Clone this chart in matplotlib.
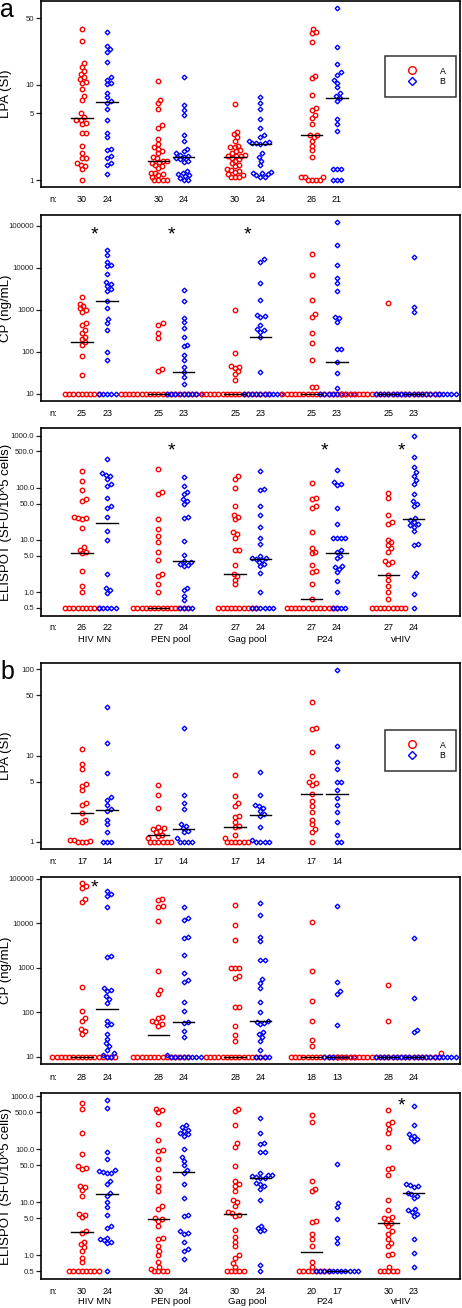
import numpy as np
import matplotlib
matplotlib.use("Agg")
import matplotlib.pyplot as plt
from matplotlib.lines import Line2D
from matplotlib.transforms import blended_transform_factory

plt.rcParams['font.family'] = ['Liberation Sans', 'DejaVu Sans']

# -------------------- data --------------------
groups = ["HIV MN", "PEN pool", "Gag pool", "P24", "vHIV"]

# panel a, LPA (SI)
a_lpa_A = [
    [39, 29, 17, 15.5, 14, 13, 12, 11.5, 10.8, 10.5, 9, 7.6, 7, 5, 4.6, 4.3, 4.3, 4, 3.9, 3.1,
     3.1, 2.3, 1.9, 1.7, 1.7, 1.5, 1.45, 1.4, 1.3, 1.0],
    [11, 7, 6.4, 5.6, 3.8, 3.55, 2.7, 2.4, 2.2, 2.1, 2.0, 1.9, 1.75, 1.7, 1.6, 1.6, 1.55, 1.5,
     1.45, 1.4, 1.35, 1.2, 1.18, 1.15, 1.12, 1.08, 1.0, 1.0, 1.0, 1.0],
    [6.3, 3.2, 3.05, 2.85, 2.6, 2.3, 2.25, 2.2, 2.05, 2.0, 1.9, 1.85, 1.8, 1.8, 1.78, 1.7, 1.65,
     1.6, 1.5, 1.45, 1.4, 1.3, 1.28, 1.25, 1.22, 1.17, 1.12, 1.08, 1.08, 1.08],
    [38.5, 35.5, 35, 28, 12.5, 11.8, 7.9, 5.75, 5.5, 4.8, 4.5, 3.9, 2.95, 2.95, 2.85, 2.6, 2.3,
     2.05, 1.75, 1.08, 1.08, 1.08, 1.0, 1.0, 1.0, 1.0],
    [],
]
a_lpa_B = [
    [35.5, 25.8, 23.8, 22, 17.5, 12, 11.3, 10.4, 10.2, 8.2, 7.4, 6.7, 6.5, 5.6, 4.3, 3.1, 2.8,
     2.1, 2.05, 1.8, 1.7, 1.5, 1.45, 1.17],
    [12, 6.2, 5.5, 4.8, 2.95, 2.6, 2.1, 2.0, 1.9, 1.85, 1.8, 1.75, 1.7, 1.65, 1.6, 1.55, 1.25,
     1.2, 1.15, 1.12, 1.1, 1.05, 1.0, 1.0],
    [7.4, 6.4, 5.6, 4.4, 3.5, 2.95, 2.8, 2.6, 2.5, 2.45, 2.43, 2.42, 2.4, 1.9, 1.75, 1.6, 1.45,
     1.22, 1.2, 1.18, 1.15, 1.12, 1.08, 1.08],
    [64, 25, 16.6, 13.5, 12.8, 11.1, 10.4, 9.4, 8.2, 7.7, 7.3, 6.8, 4.4, 3.9, 3.3, 1.32, 1.32,
     1.32, 1.0, 1.0, 1.0],
    [],
]

# panel a, CP (ng/mL)
a_cp_A = [
    [10] * 9 + [2000, 1400, 1250, 1100, 1000, 900, 500, 450, 330, 280, 230, 200, 174, 150, 80, 28],
    [10] * 19 + [480, 450, 290, 220, 40, 36],
    [10] * 17 + [1000, 92, 47, 44, 42, 35, 30, 22],
    [10] * 15 + [22000, 6800, 1700, 800, 680, 280, 165, 65, 15, 15],
    [10] * 24 + [1500],
]
a_cp_B = [
    [10] * 5 + [27000, 20000, 14000, 12000, 11000, 7300, 4700, 4200, 3800, 3200, 2800, 1650,
                1100, 600, 480, 330, 100, 65],
    [10] * 9 + [3000, 1650, 660, 520, 380, 230, 150, 135, 83, 66, 44, 34, 26, 17.6],
    [10] * 10 + [16000, 14000, 4500, 1700, 750, 700, 680, 450, 350, 330, 300, 230, 33],
    [10] * 9 + [126000, 35000, 12000, 5800, 4500, 2900, 680, 640, 520, 120, 115, 58, 32, 14],
    [10] * 20 + [18000, 1200, 880],
]

# panel a, ELISPOT
a_el_A = [
    [0.5] * 9 + [215, 133, 90, 60, 55, 28, 27, 26, 25, 17, 7.2, 6.5, 5.8, 5.5, 2.5, 1.3, 1.0],
    [0.5] * 14 + [230, 85, 75, 25, 16, 12, 9, 6, 4.2, 2.2, 2.0, 1.4, 1.0],
    [0.5] * 10 + [170, 150, 100, 45, 30, 28, 25, 14, 13, 11, 6.5, 6.3, 3.3, 2.2, 2.0, 1.7, 1.4],
    [0.5] * 13 + [125, 65, 60, 45, 42, 14, 7, 6, 5.5, 3.3, 2.5, 2.4, 1.4, 0.75],
    [0.5] * 9 + [80, 65, 30, 22, 20, 10, 9, 8, 7, 6, 4, 3.8, 3.5, 2.1, 1.7, 1.3, 1.0, 0.75],
]
a_el_B = [
    [0.5] * 5 + [355, 190, 180, 170, 150, 120, 110, 65, 45, 42, 28, 15, 10, 2.2, 1.2, 1.1, 0.95],
    [0.5] * 4 + [160, 110, 85, 75, 60, 55, 50, 28, 26, 9.5, 5.2, 4, 3.8, 3.5, 3.3, 3.2, 1.2,
                 1.1, 0.85, 0.7],
    [0.5] * 6 + [210, 95, 90, 45, 30, 18, 11, 8.5, 5, 4.6, 4.5, 4.3, 4.2, 3.8, 3.5, 3.2, 2.3, 1.0],
    [0.5] * 4 + [220, 130, 120, 115, 42, 20, 11, 11, 11, 11, 6.5, 6, 5, 4.5, 3.2, 3.0, 2.8, 2.4,
                 1.6, 1.0],
    [0.5] + [1000, 400, 250, 200, 170, 140, 120, 75, 55, 50, 45, 26, 24, 22, 20, 19, 18, 15, 8.5,
             8, 2.3, 2.0, 0.9],
]

# panel b, LPA (SI)
b_lpa_A = [
    [12, 8, 7, 4.7, 4.5, 4.0, 2.8, 2.7, 2.15, 1.8, 1.7, 1.06, 1.05, 1.04, 1.0, 1.0, 1.0],
    [4.6, 3.5, 2.5, 1.5, 1.45, 1.4, 1.35, 1.3, 1.22, 1.18, 1.1, 1, 1, 1, 1, 1, 1],
    [6, 3.4, 2.8, 2.6, 2.0, 1.95, 1.7, 1.55, 1.5, 1.2, 1.1, 1, 1, 1, 1, 1, 1],
    [42, 21, 20.5, 11, 5.8, 5, 4.8, 4.6, 3.6, 3.0, 2.6, 2.2, 1.8, 1.6, 1.4, 1.3, 1.0],
    [],
]
b_lpa_B = [
    [36, 14, 6.2, 3.3, 3.1, 2.7, 2.4, 2.3, 1.8, 1.6, 1.3, 1.0, 1.0, 1.0],
    [21, 3.5, 2.8, 2.4, 1.6, 1.55, 1.45, 1.35, 1.3, 1.1, 1, 1, 1, 1],
    [6.5, 3.5, 2.7, 2.6, 2.5, 2.3, 2.1, 2.0, 1.5, 1.05, 1, 1, 1, 1],
    [98, 13, 8.5, 7.0, 5.0, 4.9, 4.0, 3.2, 2.7, 2.2, 1.7, 1.2, 1.0, 1.0],
    [],
]

# panel b, CP (ng/mL)
b_cp_A = [
    [10] * 16 + [79000, 68000, 62000, 35000, 30000, 365, 105, 75, 65, 42, 38, 33],
    [10] * 14 + [36000, 33000, 24000, 23000, 11000, 830, 320, 260, 80, 75, 65, 60, 55, 50],
    [10] * 15 + [26000, 9000, 4200, 1000, 1000, 980, 650, 600, 130, 130, 50, 30, 22],
    [10] * 12 + [10500, 850, 175, 62, 24, 17],
    [10] * 25 + [400, 62, 12],
]
b_cp_B = [
    [10] * 2 + [52000, 45000, 40000, 23000, 1800, 1700, 350, 320, 300, 230, 200, 165, 65, 55,
                52, 32, 25, 20, 17, 14, 12, 11],
    [10] * 8 + [23000, 13000, 12000, 5000, 4700, 1900, 750, 520, 480, 170, 105, 60, 58, 38, 28, 11],
    [10] * 4 + [28000, 15000, 5000, 4000, 1500, 1480, 550, 450, 350, 170, 100, 65, 60, 58, 55,
                35, 32, 28, 23, 14],
    [10] * 8 + [25000, 470, 300, 260, 52],
    [10] * 20 + [4700, 210, 40, 36],
]

# panel b, ELISPOT
b_el_A = [
    [0.5] * 8 + [750, 580, 200, 80, 48, 45, 43, 20, 19, 17, 13, 6, 5.8, 5.2, 2.8, 2.6, 1.8, 1.6,
                 1.4, 1.2, 0.9, 0.75],
    [0.5] * 4 + [580, 540, 500, 300, 150, 95, 92, 65, 42, 28, 20, 16, 8.5, 7.5, 5, 4.8, 4.5, 3.5,
                 2.1, 2.0, 1.5, 1.2, 1.0, 0.75, 0.6, 0.55],
    [0.5] * 5 + [580, 520, 290, 130, 110, 48, 25, 22, 20, 16, 11, 10, 8.5, 6.5, 6.2, 5.8, 5.5,
                 3.0, 2.2, 1.8, 1.5, 1.0, 0.9, 0.7, 0.6],
    [0.5] * 8 + [450, 320, 25, 18, 16, 4.5, 4.3, 2.5, 2.0, 1.5, 0.75, 0.6],
    [0.5] * 5 + [550, 330, 300, 240, 200, 110, 45, 43, 32, 11, 7, 5.2, 5.0, 4.8, 4.1, 4.0, 3.5,
                 2.8, 2.5, 2.0, 1.7, 1.5, 1.05, 1.0, 0.6],
]
b_el_B = [
    [0.5] + [850, 600, 90, 65, 40, 38, 37, 36, 35, 25, 22, 15, 13, 10, 8, 5.8, 3.5, 3.3, 2.1, 2.0,
             1.9, 1.8, 1.7],
    [280, 260, 230, 220, 200, 190, 180, 100, 70, 60, 50, 40, 35, 22, 12, 5.8, 5.5, 2.8, 2.6, 2.5,
     1.8, 1.3, 1.2, 0.85],
    [0.5, 0.65, 2.8, 3.0, 3.2, 3.5, 11, 18, 20, 22, 23, 28, 29, 30, 31, 32, 33, 35, 88, 90, 125,
     130, 200, 380],
    [0.5] * 11 + [52, 9.5, 8, 4.8, 2.1, 1.7],
    [0.6, 1.1, 2.0, 5.5, 6, 6.5, 7, 7.5, 12, 13, 14, 15, 19, 20, 21, 22, 140, 155, 160, 180, 190,
     280, 650],
]

# significance marks (group index) and their height
a_cp_stars, a_cp_star_y = [0, 1, 2], 60000
a_el_stars, a_el_star_y = [1, 3, 4], 520
b_cp_stars, b_cp_star_y = [0], 62000
b_el_stars, b_el_star_y = [4], 650

lpa_ticks = [1, 5, 10, 50]
lpa_ticks_b = [1, 5, 10, 50, 100]
cp_ticks = [10, 100, 1000, 10000, 100000]
el_ticks = [0.5, 1, 5, 10, 50, 100, 500, 1000]

# -------------------- layout --------------------
W, H = 462, 1308
RED, BLUE = '#ff0000', '#0000ff'
fig = plt.figure(figsize=(W / 100, H / 100), dpi=100)
AX_L, AX_R = 40.7, 460.0
XLIM = (0.298, 5.77)


def swarm(ax, x0, vals, d=4.2):
    # simple beeswarm in pixel space, returns x in data units
    pts = np.column_stack([np.full(len(vals), x0), vals])
    ypix = ax.transData.transform(pts)[:, 1]
    pxu = ax.bbox.width / (XLIM[1] - XLIM[0])
    placed = []
    off = np.zeros(len(vals))
    for i in np.argsort(ypix, kind='stable'):
        y = ypix[i]
        cands = [0.0]
        for px, py in placed:
            dy = abs(y - py)
            if dy < d:
                dx = np.sqrt(d * d - dy * dy)
                cands += [px + dx, px - dx]
        cands.sort(key=abs)
        for c in cands:
            if all((c - px) ** 2 + (y - py) ** 2 >= d * d - 1e-6 for px, py in placed):
                break
        placed.append((c, y))
        off[i] = c
    return x0 + off / pxu


def panel(top, bot, A, B, ylim, ticks, fmt, ylabel, n_y, stars=(), star_y=None,
          labels_y=None, legend_top=None):
    ax = fig.add_axes([AX_L / W, 1 - bot / H, (AX_R - AX_L) / W, (bot - top) / H])
    ax.set_yscale('log')
    ax.set_xlim(*XLIM)
    ax.set_ylim(*ylim)
    ax.set_yticks(ticks)
    ax.set_yticklabels([fmt.format(t) for t in ticks])
    ax.minorticks_off()
    ax.set_xticks([])
    ax.tick_params(axis='y', length=3.5, width=0.9, labelsize=5.6, pad=1.2, colors='#222222')
    for s in ax.spines.values():
        s.set_linewidth(1.2)
    ax.set_ylabel(ylabel, fontsize=9.5)
    ax.yaxis.set_label_coords(-0.068, 0.5)

    tr = blended_transform_factory(ax.transData, fig.transFigure)
    fig.text(53 / W, 1 - n_y / H, 'n:', fontsize=6.5, ha='center', va='center')
    for gi in range(5):
        for vals, dx, mk, col, ms in ((A[gi], -0.165, 'o', RED, 3.2), (B[gi], 0.165, 'D', BLUE, 2.4)):
            if not vals:
                continue
            x0 = gi + 1 + dx
            xs = swarm(ax, x0, vals)
            ax.plot(xs, vals, mk, mfc='none', mec=col, ms=ms, mew=1.0, clip_on=False, zorder=3)
            med = np.median(vals)
            ax.plot([x0 - 0.14, x0 + 0.14], [med, med], color='black', lw=1.0, zorder=4)
            ax.text(x0, 1 - n_y / H, str(len(vals)), transform=tr, fontsize=6.5,
                    ha='center', va='center')
        if labels_y is not None:
            ax.text(gi + 1, 1 - labels_y / H, groups[gi], transform=tr, fontsize=6.8,
                    ha='center', va='center')
    for gi in stars:
        ax.text(gi + 1, star_y, '*', fontsize=14, ha='center', va='center')
    if legend_top is not None:
        handles = [Line2D([], [], marker='o', ls='none', mfc='none', mec=RED, ms=5.5, mew=1.0),
                   Line2D([], [], marker='D', ls='none', mfc='none', mec=BLUE, ms=3.8, mew=1.0)]
        leg = ax.legend(handles, ['A', 'B'], loc='upper right',
                        bbox_to_anchor=(0.9905, legend_top), fontsize=6.3,
                        frameon=True, fancybox=False, borderpad=1.2, labelspacing=0.2,
                        handlelength=3.9, handletextpad=1.2, borderaxespad=0.0)
        leg.get_frame().set_edgecolor('black')
        leg.get_frame().set_linewidth(1.1)
    return ax


panel(1, 187, a_lpa_A, a_lpa_B, (10 ** -0.073, 10 ** 1.88), lpa_ticks, '{:g}', 'LPA (SI)',
      200, legend_top=1 - 55 / 186)
panel(215, 401, a_cp_A, a_cp_B, (10 ** 0.833, 10 ** 5.26), cp_ticks, '{:d}', 'CP (ng/mL)',
      413, a_cp_stars, a_cp_star_y)
panel(428, 616, a_el_A, a_el_B, (10 ** -0.46, 10 ** 3.15), el_ticks, '{:.1f}',
      'ELISPOT (SFU/10^5 cells)', 628, a_el_stars, a_el_star_y, labels_y=640)
panel(663, 849, b_lpa_A, b_lpa_B, (10 ** -0.081, 10 ** 2.07), lpa_ticks_b, '{:g}', 'LPA (SI)',
      862, legend_top=1 - 67 / 186)
panel(877, 1064, b_cp_A, b_cp_B, (10 ** 0.835, 10 ** 5.04), cp_ticks, '{:d}', 'CP (ng/mL)',
      1077, b_cp_stars, b_cp_star_y)
panel(1093, 1279, b_el_A, b_el_B, (10 ** -0.45, 10 ** 3.06), el_ticks, '{:.1f}',
      'ELISPOT (SFU/10^5 cells)', 1291, b_el_stars, b_el_star_y, labels_y=1302)

fig.text(0 / W, 1 - 10 / H, 'a', fontsize=18, ha='left', va='center')
fig.text(0 / W, 1 - 672 / H, 'b', fontsize=18, ha='left', va='center')

fig.savefig('out.png', dpi=100)
